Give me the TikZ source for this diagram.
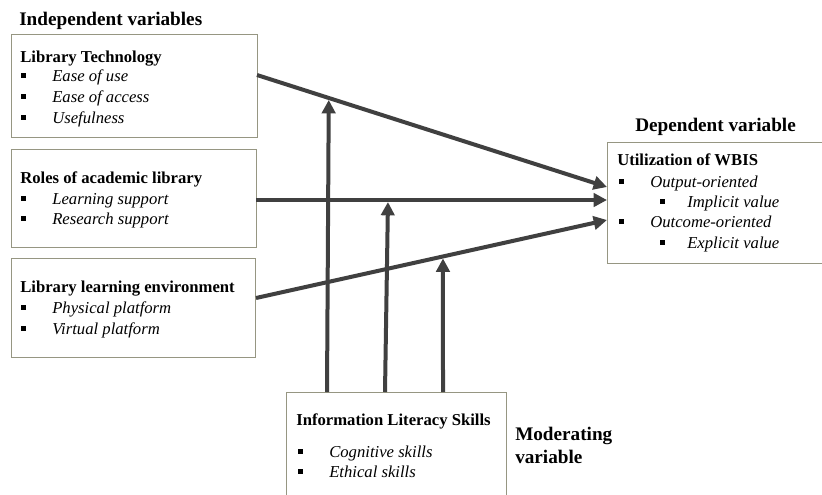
\documentclass[tikz,border=0pt]{standalone}
\usepackage{fontspec}
\setmainfont{Liberation Serif}
\usetikzlibrary{arrows.meta,calc}
\definecolor{arr}{RGB}{64,64,64}
\definecolor{bord}{RGB}{150,150,130}
\newcommand{\bul}{\rule[0.2em]{0.27em}{0.3em}}
\newcommand{\itm}[2][23.25pt]{\makebox[#1][l]{\bul}\textit{#2}}
\begin{document}
\begin{tikzpicture}[x=0.75pt,y=-0.75pt,
  box/.style={draw=bord,line width=1.1pt,anchor=north west,inner sep=0pt},
  txt/.style={anchor=base west,inner sep=0pt},
  hd/.style={txt,font=\fontsize{14.4}{17}\selectfont\bfseries},
  ttl/.style={txt,font=\fontsize{12.5}{15}\selectfont\bfseries},
  it/.style={txt,font=\fontsize{12.5}{15}\selectfont},
  con/.style={draw=arr,line width=3pt,-{Triangle[length=10pt,width=10pt]}}]
\useasboundingbox (0,0) rectangle (822,494);
% boxes
\node[box,minimum width=184.5pt,minimum height=77.25pt] (lt) at (11,34) {};
\node[box,minimum width=183.75pt,minimum height=73.5pt] (ro) at (11,149) {};
\node[box,minimum width=183pt,minimum height=74.25pt] (le) at (11,258) {};
\node[box,minimum width=162pt,minimum height=90.75pt] (dv) at (607,142) {};
\node[box,minimum width=165pt,minimum height=81pt] (mv) at (286,392) {};
% texts
\node[hd] (t0) at (19,25) {Independent variables};
\node[ttl] (t1) at (20,62) {Library Technology};
\node[it] (t1a) at (21,81) {\itm{Ease of use}};
\node[it] (t1b) at (21,102) {\itm{Ease of access}};
\node[it] (t1c) at (21,123) {\itm{Usefulness}};
\node[ttl] (t2) at (20,183) {Roles of academic library};
\node[it] (t2a) at (21,204) {\itm{Learning support}};
\node[it] (t2b) at (21,224) {\itm{Research support}};
\node[ttl] (t3) at (20,292) {Library learning environment};
\node[it] (t3a) at (21,313) {\itm{Physical platform}};
\node[it] (t3b) at (21,334) {\itm{Virtual platform}};
\node[hd] (t4) at (635,131) {Dependent variable};
\node[ttl] (t5) at (617,165) {Utilization of WBIS};
\node[it] (t5a) at (619,187) {\itm{Output-oriented}};
\node[it] (t5b) at (660,207) {\itm[20.25pt]{Implicit value}};
\node[it] (t5c) at (619,227) {\itm{Outcome-oriented}};
\node[it] (t5d) at (660,248) {\itm[20.25pt]{Explicit value}};
\node[ttl] (t6) at (296,425) {Information Literacy Skills};
\node[it] (t6a) at (298,457) {\itm{Cognitive skills}};
\node[it] (t6b) at (298,477) {\itm{Ethical skills}};
\node[hd] (t7) at (515,440) {Moderating};
\node[hd] (t8) at (515,463) {variable};
% connector ends
\coordinate (l1s) at (257,75);
\coordinate (l1e) at (607,187);
\coordinate (l2s) at (256,200);
\coordinate (l2e) at (607,200);
\coordinate (l3s) at (256,298);
\coordinate (l3e) at (607,220);
\coordinate (v1s) at (327,392);
\coordinate (v1t) at (329,60);
\coordinate (v2s) at (385,392);
\coordinate (v3s) at (443,392);
\coordinate (v3t) at (443,200);
\coordinate (m1) at (intersection of l1s--l1e and v1s--v1t);
\coordinate (m2) at (388,200);
\coordinate (m3) at (intersection of l3s--l3e and v3s--v3t);
% connectors
\draw[con] (l1s) -- (l1e);
\draw[con] (l2s) -- (l2e);
\draw[con] (l3s) -- (l3e);
\draw[con,shorten >=1.5pt] (v1s) -- (m1);
\draw[con,shorten >=1.5pt] (v2s) -- (m2);
\draw[con,shorten >=1.5pt] (v3s) -- (m3);
\end{tikzpicture}
\end{document}
